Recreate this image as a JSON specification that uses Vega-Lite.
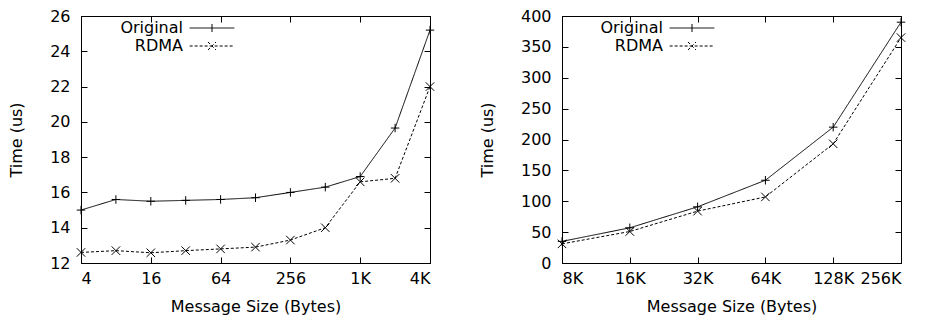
{
  "$schema": "https://vega.github.io/schema/vega-lite/v6.json",
  "background": "white",
  "padding": {"left": 8, "top": 7, "right": 5, "bottom": 5},
  "spacing": 132,
  "bounds": "flush",
  "resolve": {"scale": {"strokeDash": "independent"}, "legend": {"strokeDash": "independent"}},
  "config": {
    "view": {"stroke": "black", "strokeWidth": 1},
    "font": "DejaVu Sans",
    "axis": {
      "domain": false, "grid": false, "tickSize": -6, "tickColor": "black", "tickWidth": 1,
      "labelFont": "DejaVu Sans", "labelFontSize": 16, "labelColor": "black", "labelPadding": 17,
      "titleFont": "DejaVu Sans", "titleFontSize": 16, "titleFontWeight": "normal", "titleColor": "black"
    },
    "axisX": {"labelPadding": 13},
    "legend": {
      "labelFont": "DejaVu Sans", "labelFontSize": 16, "labelColor": "black"
    }
  },
  "datasets": {
    "small": [
      {"size": 4, "series": "Original", "time": 15.0},
      {"size": 8, "series": "Original", "time": 15.6},
      {"size": 16, "series": "Original", "time": 15.5},
      {"size": 32, "series": "Original", "time": 15.55},
      {"size": 64, "series": "Original", "time": 15.6},
      {"size": 128, "series": "Original", "time": 15.7},
      {"size": 256, "series": "Original", "time": 16.0},
      {"size": 512, "series": "Original", "time": 16.3},
      {"size": 1024, "series": "Original", "time": 16.9},
      {"size": 2048, "series": "Original", "time": 19.65},
      {"size": 4096, "series": "Original", "time": 25.2},
      {"size": 4, "series": "RDMA", "time": 12.6},
      {"size": 8, "series": "RDMA", "time": 12.7},
      {"size": 16, "series": "RDMA", "time": 12.58},
      {"size": 32, "series": "RDMA", "time": 12.7},
      {"size": 64, "series": "RDMA", "time": 12.8},
      {"size": 128, "series": "RDMA", "time": 12.9},
      {"size": 256, "series": "RDMA", "time": 13.3},
      {"size": 512, "series": "RDMA", "time": 14.0},
      {"size": 1024, "series": "RDMA", "time": 16.6},
      {"size": 2048, "series": "RDMA", "time": 16.8},
      {"size": 4096, "series": "RDMA", "time": 22.0}
    ],
    "large": [
      {"size": 8192, "series": "Original", "time": 35},
      {"size": 16384, "series": "Original", "time": 57},
      {"size": 32768, "series": "Original", "time": 91},
      {"size": 65536, "series": "Original", "time": 134},
      {"size": 131072, "series": "Original", "time": 220},
      {"size": 262144, "series": "Original", "time": 390},
      {"size": 8192, "series": "RDMA", "time": 31},
      {"size": 16384, "series": "RDMA", "time": 51},
      {"size": 32768, "series": "RDMA", "time": 84},
      {"size": 65536, "series": "RDMA", "time": 107},
      {"size": 131072, "series": "RDMA", "time": 193},
      {"size": 262144, "series": "RDMA", "time": 365}
    ]
  },
  "hconcat": [
    {
      "width": 349, "height": 247,
      "data": {"name": "small"},
      "layer": [
        {
          "mark": {"type": "line", "color": "black", "strokeWidth": 1},
          "encoding": {
            "x": {"field": "size", "type": "quantitative",
              "scale": {"type": "log", "base": 2, "domain": [4, 4096], "nice": false},
              "axis": {"orient": "bottom", "values": [4, 16, 64, 256, 1024, 4096],
                "labelExpr": "datum.value >= 1024 ? format(datum.value / 1024, 'd') + 'K' : format(datum.value, 'd')",
                "title": "Message Size (Bytes)", "titlePadding": 12}},
            "y": {"field": "time", "type": "quantitative",
              "scale": {"domain": [12, 26], "nice": false, "zero": false},
              "axis": {"orient": "left", "values": [12, 14, 16, 18, 20, 22, 24, 26], "title": "Time (us)", "titlePadding": 25}},
            "strokeDash": {"field": "series", "type": "nominal",
              "scale": {"domain": ["Original", "RDMA"], "range": [[1, 0], [3, 2]]},
              "legend": {"orient": "none", "legendX": 123, "legendY": 4, "title": null, "padding": 0,
                "symbolSize": 80, "symbolStrokeColor": "black", "symbolStrokeWidth": 1, "symbolFillColor": "transparent",
                "labelAlign": "right", "labelOffset": -37, "labelBaseline": "middle", "rowPadding": 2,
                "encode": {"symbols": {"update": {"shape": {"signal": "datum.value === 'Original' ? 'M-5,0L5,0M0,-0.9L0,0.9' : 'M-5,0L5,0M-0.9,-0.9L0.9,0.9M-0.9,0.9L0.9,-0.9'"}}}}}}
          }
        },
        {
          "transform": [{"filter": "datum.series === 'Original'"}],
          "mark": {"type": "point", "filled": false, "color": "black", "strokeWidth": 1, "size": 72, "opacity": 1, "shape": "M-1,0L1,0M0,-1L0,1"},
          "encoding": {
            "x": {"field": "size", "type": "quantitative",
              "scale": {"type": "log", "base": 2, "domain": [4, 4096], "nice": false},
              "axis": {"orient": "top", "values": [4, 16, 64, 256, 1024, 4096], "labels": false, "title": null}},
            "y": {"field": "time", "type": "quantitative",
              "scale": {"domain": [12, 26], "nice": false, "zero": false},
              "axis": {"orient": "right", "values": [12, 14, 16, 18, 20, 22, 24, 26], "labels": false, "title": null}}
          }
        },
        {
          "transform": [{"filter": "datum.series === 'RDMA'"}],
          "mark": {"type": "point", "filled": false, "color": "black", "strokeWidth": 1, "size": 72, "opacity": 1, "shape": "M-1,-1L1,1M-1,1L1,-1"},
          "encoding": {
            "x": {"field": "size", "type": "quantitative",
              "scale": {"type": "log", "base": 2, "domain": [4, 4096], "nice": false}, "axis": null},
            "y": {"field": "time", "type": "quantitative",
              "scale": {"domain": [12, 26], "nice": false, "zero": false}, "axis": null}
          }
        }
      ],
      "resolve": {"axis": {"x": "independent", "y": "independent"}}
    },
    {
      "width": 339, "height": 247,
      "data": {"name": "large"},
      "layer": [
        {
          "mark": {"type": "line", "color": "black", "strokeWidth": 1},
          "encoding": {
            "x": {"field": "size", "type": "quantitative",
              "scale": {"type": "log", "base": 2, "domain": [8192, 262144], "nice": false},
              "axis": {"orient": "bottom", "values": [8192, 16384, 32768, 65536, 131072, 262144],
                "labelExpr": "format(datum.value / 1024, 'd') + 'K'",
                "title": "Message Size (Bytes)", "titlePadding": 12}},
            "y": {"field": "time", "type": "quantitative",
              "scale": {"domain": [0, 400], "nice": false},
              "axis": {"orient": "left", "values": [0, 50, 100, 150, 200, 250, 300, 350, 400], "title": "Time (us)", "titlePadding": 25}},
            "strokeDash": {"field": "series", "type": "nominal",
              "scale": {"domain": ["Original", "RDMA"], "range": [[1, 0], [3, 2]]},
              "legend": {"orient": "none", "legendX": 122, "legendY": 4, "title": null, "padding": 0,
                "symbolSize": 80, "symbolStrokeColor": "black", "symbolStrokeWidth": 1, "symbolFillColor": "transparent",
                "labelAlign": "right", "labelOffset": -37, "labelBaseline": "middle", "rowPadding": 2,
                "encode": {"symbols": {"update": {"shape": {"signal": "datum.value === 'Original' ? 'M-5,0L5,0M0,-0.9L0,0.9' : 'M-5,0L5,0M-0.9,-0.9L0.9,0.9M-0.9,0.9L0.9,-0.9'"}}}}}}
          }
        },
        {
          "transform": [{"filter": "datum.series === 'Original'"}],
          "mark": {"type": "point", "filled": false, "color": "black", "strokeWidth": 1, "size": 72, "opacity": 1, "shape": "M-1,0L1,0M0,-1L0,1"},
          "encoding": {
            "x": {"field": "size", "type": "quantitative",
              "scale": {"type": "log", "base": 2, "domain": [8192, 262144], "nice": false},
              "axis": {"orient": "top", "values": [8192, 16384, 32768, 65536, 131072, 262144], "labels": false, "title": null}},
            "y": {"field": "time", "type": "quantitative",
              "scale": {"domain": [0, 400], "nice": false},
              "axis": {"orient": "right", "values": [0, 50, 100, 150, 200, 250, 300, 350, 400], "labels": false, "title": null}}
          }
        },
        {
          "transform": [{"filter": "datum.series === 'RDMA'"}],
          "mark": {"type": "point", "filled": false, "color": "black", "strokeWidth": 1, "size": 72, "opacity": 1, "shape": "M-1,-1L1,1M-1,1L1,-1"},
          "encoding": {
            "x": {"field": "size", "type": "quantitative",
              "scale": {"type": "log", "base": 2, "domain": [8192, 262144], "nice": false}, "axis": null},
            "y": {"field": "time", "type": "quantitative",
              "scale": {"domain": [0, 400], "nice": false}, "axis": null}
          }
        }
      ],
      "resolve": {"axis": {"x": "independent", "y": "independent"}}
    }
  ]
}
